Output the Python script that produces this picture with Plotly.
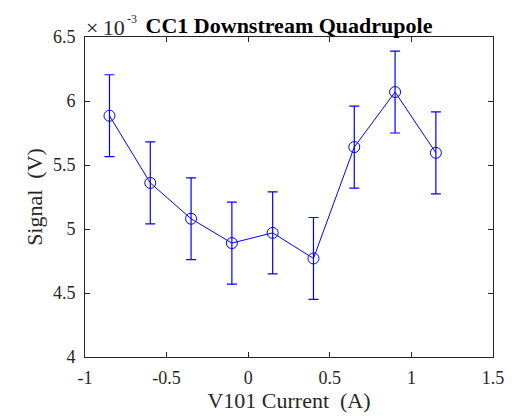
import plotly.graph_objects as go

current = [-0.85, -0.6, -0.35, -0.1, 0.15, 0.4, 0.65, 0.9, 1.15]
signal = [5.885e-3, 5.36e-3, 5.08e-3, 4.89e-3, 4.97e-3, 4.77e-3, 5.64e-3, 6.07e-3, 5.595e-3]
error = [0.32e-3, 0.32e-3, 0.32e-3, 0.32e-3, 0.32e-3, 0.32e-3, 0.32e-3, 0.32e-3, 0.32e-3]

x_ticks = [-1, -0.5, 0, 0.5, 1, 1.5]
x_labels = ["-1", "-0.5", "0", "0.5", "1", "1.5"]
y_ticks = [4e-3, 4.5e-3, 5e-3, 5.5e-3, 6e-3, 6.5e-3]
y_labels = ["4", "4.5", "5", "5.5", "6", "6.5"]

font = "Liberation Serif, Times New Roman, serif"
blue = "#0000FF"
dark = "#262626"

fig = go.Figure()
fig.add_trace(go.Scatter(
    x=current, y=signal, mode="lines+markers",
    line=dict(color=blue, width=1),
    marker=dict(symbol="circle-open", size=11, color=blue, line=dict(width=1)),
    error_y=dict(type="data", array=error, visible=True, color=blue, thickness=1.2, width=5),
    showlegend=False,
))

axis_common = dict(
    showgrid=False, zeroline=False, showline=True, linecolor=dark, linewidth=1,
    mirror="ticks", ticks="inside", ticklen=5, tickcolor=dark,
    tickfont=dict(family=font, size=18, color=dark),
)
fig.update_xaxes(range=[-1, 1.5], tickvals=x_ticks, ticktext=x_labels, ticklabelstandoff=4,
                 title=dict(text="V101 Current\u00a0\u00a0(A)", font=dict(family=font, size=22, color=dark), standoff=4),
                 **axis_common)
fig.update_yaxes(range=[4e-3, 6.5e-3], tickvals=y_ticks, ticktext=y_labels, ticklabelstandoff=5,
                 title=dict(text="Signal\u00a0\u00a0(V)", font=dict(family=font, size=22, color=dark), standoff=4),
                 **axis_common)

fig.add_annotation(text="×\u200910", xref="paper", yref="paper", x=0.0, y=1.0,
                   xanchor="left", yanchor="bottom", showarrow=False, xshift=-1, yshift=-5,
                   font=dict(family=font, size=22, color=dark))
fig.add_annotation(text="-3", xref="paper", yref="paper", x=0.0, y=1.0,
                   xanchor="left", yanchor="bottom", showarrow=False, xshift=40, yshift=9,
                   font=dict(family=font, size=12, color=dark))
fig.update_layout(
    width=517, height=418,
    margin=dict(l=85, r=24, t=37, b=61),
    paper_bgcolor="white", plot_bgcolor="white",
    title=dict(text="<b>CC1 Downstream Quadrupole</b>", x=0.5, xref="paper", xanchor="center",
               y=1, yref="paper", yanchor="bottom", pad=dict(b=4),
               font=dict(family=font, size=22, color="black")),
)
fig.write_html("out.html")
